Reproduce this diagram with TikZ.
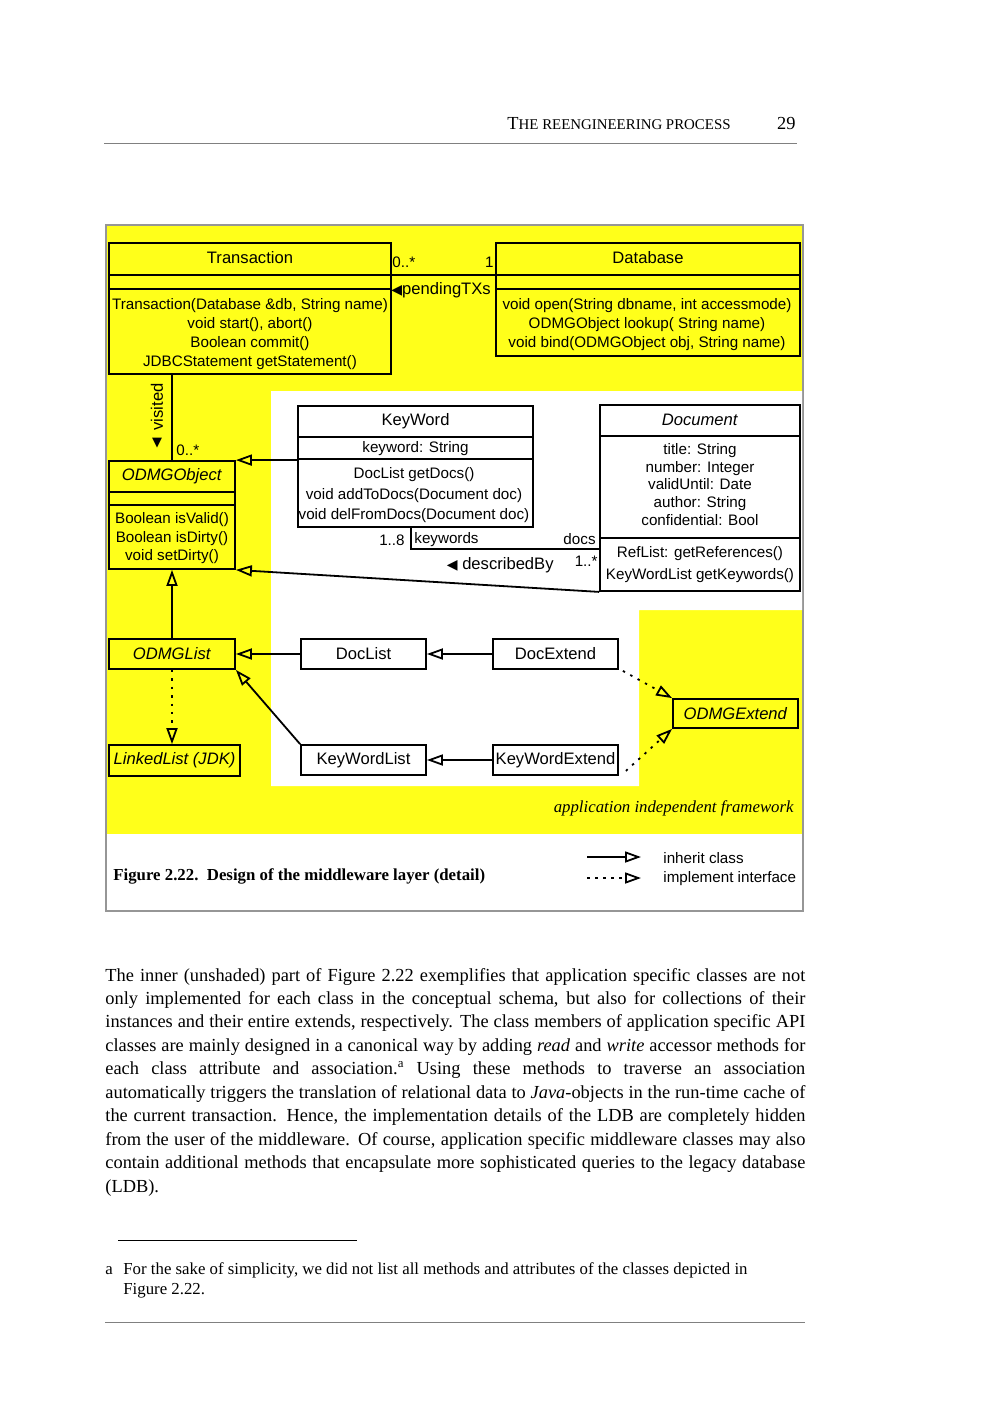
\documentclass[tikz,border=0pt]{standalone}
\usepackage{fontspec}
\setmainfont{Liberation Serif}
\setsansfont{Liberation Sans}
\newfontfamily\symbolfont{DejaVu Sans}
\usetikzlibrary{arrows.meta,calc}
\definecolor{fwyellow}{RGB}{255,255,26}
\definecolor{framegray}{RGB}{150,150,150}
\newcommand\umlfont{\sffamily\fontsize{7.6pt}{9.4pt}\selectfont}
\newcommand\umlname{\sffamily\fontsize{8.3pt}{10pt}\selectfont}
\newcommand\umlfontsp[1]{\sffamily\fontsize{7.6pt}{#1}\selectfont}
\newcommand\tinytri[1]{{\symbolfont\fontsize{7pt}{8pt}\selectfont #1}}

\begin{document}
\begin{tikzpicture}[x=0.5pt,y=-0.5pt,
  classbox/.style={draw,line width=0.9pt,inner sep=0pt,font=\umlname},
  umltext/.style={font=\umlfont,align=center,inner sep=0pt},
  umlname/.style={font=\umlname,align=center,inner sep=0pt},
  divider/.style={line width=0.9pt},
  assoc/.style={line width=0.9pt},
  inherit/.style={line width=0.9pt,-{Triangle[open,length=8pt,width=5.5pt]}},
  implement/.style={inherit,dash pattern=on 1.2pt off 3pt},
  bodyline/.style={anchor=base west,inner sep=0pt,font=\fontsize{9.2pt}{11pt}\selectfont}]
  \useasboundingbox (0,0) rectangle (1000,1413);
  \fill[white] (0,0) rectangle (1000,1413);

  %% Running head
  \node[anchor=base east,inner sep=0pt,font=\fontsize{9.2pt}{11pt}\selectfont]
        (runhead) at (731,130) {T{\fontsize{7.45pt}{9pt}\selectfont HE REENGINEERING PROCESS}};
  \node[anchor=base east,inner sep=0pt,font=\fontsize{9.2pt}{11pt}\selectfont]
        (pageno) at (796,130) {29};
  \draw[gray,line width=0.5pt] (104,144) -- (797,144);

  %% Figure frame and shading
  \draw[framegray,line width=1pt,fill=white] (106,225) rectangle (803,911);
  \fill[fwyellow] (107,226) rectangle (802,834);
  \fill[white] (271,391) -- (802,391) -- (802,610) -- (639,610) -- (639,786)
        -- (271,786) -- cycle;

  %% Transaction
  \node[classbox,minimum width=141pt,minimum height=65.5pt] (trans) at (250,308.5) {};
  \draw[divider] (trans.west |- 0,275) -- (trans.east |- 0,275);
  \draw[divider] (trans.west |- 0,289) -- (trans.east |- 0,289);
  \node[umlname] (transname) at (250,258) {Transaction};
  \node[umltext,font=\umlfontsp{9.5pt}] (transops) at (250,334.5)
        {Transaction(Database \&db, String name)\\void start(), abort()\\
         Boolean commit()\\JDBCStatement getStatement()};

  %% Database
  \node[classbox,minimum width=152pt,minimum height=56.5pt] (db) at (648,299.5) {};
  \draw[divider] (db.west |- 0,275) -- (db.east |- 0,275);
  \draw[divider] (db.west |- 0,289) -- (db.east |- 0,289);
  \node[umlname] (dbname) at (648,258) {Database};
  \node[umltext,font=\umlfontsp{9.5pt}] (dbops) at (647,325)
        {void open(String dbname, int accessmode)\\ODMGObject lookup( String name)\\
         void bind(ODMGObject obj, String name)};

  %% ODMGObject
  \node[classbox,minimum width=63pt,minimum height=54pt] (obj) at (172,515) {};
  \draw[divider] (obj.west |- 0,492) -- (obj.east |- 0,492);
  \draw[divider] (obj.west |- 0,505) -- (obj.east |- 0,505);
  \node[umlname] (objname) at (172,476) {\textit{ODMGObject}};
  \node[umltext,font=\umlfontsp{9.25pt}] (objops) at (172,538.5)
        {Boolean isValid()\\Boolean isDirty()\\void setDirty()};

  %% KeyWord
  \node[classbox,minimum width=117.5pt,minimum height=60.5pt] (kw) at (415.5,466.5) {};
  \draw[divider] (kw.west |- 0,437) -- (kw.east |- 0,437);
  \draw[divider] (kw.west |- 0,459) -- (kw.east |- 0,459);
  \node[umlname] (kwname) at (415.5,421) {KeyWord};
  \node[umltext] (kwattr) at (415.5,449) {keyword: String};
  \node[umltext,font=\umlfontsp{10.25pt}] (kwops) at (414,495.5)
        {DocList getDocs()\\void addToDocs(Document doc)\\void delFromDocs(Document doc)};

  %% Document
  \node[classbox,minimum width=100pt,minimum height=93pt] (doc) at (700,498) {};
  \draw[divider] (doc.west |- 0,436) -- (doc.east |- 0,436);
  \draw[divider] (doc.west |- 0,538) -- (doc.east |- 0,538);
  \node[umlname] (docname) at (700,420) {\textit{Document}};
  \node[umltext,font=\umlfontsp{8.9pt}] (docattr) at (700,484.5)
        {title: String\\number: Integer\\validUntil: Date\\author: String\\confidential: Bool};
  \node[umltext,font=\umlfontsp{11pt}] (docops) at (700,565)
        {RefList: getReferences()\\KeyWordList getKeywords()};

  %% Collections and extends
  \node[classbox,fill=fwyellow,minimum width=63pt,minimum height=15pt] (list) at (172,654) {\textit{ODMGList}};
  \node[classbox,fill=fwyellow,minimum width=65.5pt,minimum height=15.5pt] (jdk) at (174.5,760.5) {\textit{LinkedList (JDK)}};
  \node[classbox,fill=white,minimum width=62.5pt,minimum height=15pt] (doclist) at (363.5,654) {DocList};
  \node[classbox,fill=white,minimum width=62.5pt,minimum height=15pt] (kwlist) at (363.5,760) {KeyWordList};
  \node[classbox,fill=white,minimum width=62.5pt,minimum height=15pt] (docext) at (555.5,654) {DocExtend};
  \node[classbox,fill=white,minimum width=62.5pt,minimum height=15pt] (kwext) at (555.5,760) {KeyWordExtend};
  \node[classbox,fill=fwyellow,minimum width=62.5pt,minimum height=14.5pt] (odmgext) at (735.5,713.5) {\textit{ODMGExtend}};

  %% Associations
  \draw[assoc] (trans.east |- 0,275) -- (db.west |- 0,275);
  \node[umltext,anchor=west] (txmult) at (392,262) {0..*};
  \node[umltext,anchor=east] (dbmult) at (494,262) {1};
  \node[umlname,anchor=west] (pendlbl) at (391,290) {\tinytri{◀}pendingTXs};

  \draw[assoc] (obj.north |- trans.south) -- (obj.north);
  \node[umlname,rotate=90] (visitlbl) at (157,407) {visited};
  \node[inner sep=0pt,font=\symbolfont\fontsize{6.5pt}{7pt}\selectfont] (visitdir) at (157,443) {▼};
  \node[umltext,anchor=west] (visitmult) at (176,450) {0..*};

  \draw[assoc] (kw.south -| 411,0) |- (doc.west |- 0,549);
  \node[umltext,anchor=east] (kwmult) at (405,540) {1..8};
  \node[umltext,anchor=west] (kwrole) at (414,540) {keywords};
  \node[umltext,anchor=east] (docrole) at (596,539) {docs};
  \node[umltext,anchor=east] (docmult) at (598,561) {1..*};
  \node[umlname,anchor=east] (desclbl) at (554,565) {\tinytri{◀} describedBy};

  %% Inheritance
  \draw[inherit] (kw.west |- obj.north) -- (obj.north east);
  \draw[inherit] (doc.south west) -- (obj.south east);
  \draw[inherit] (list.north) -- (obj.south);
  \draw[inherit] (doclist.west) -- (list.east);
  \draw[inherit] (kwlist.north west) -- (list.south east);
  \draw[inherit] (docext.west) -- (doclist.east);
  \draw[inherit] (kwext.west) -- (kwlist.east);

  %% Interfaces
  \draw[implement] (list.south) -- (list.south |- jdk.north);
  \draw[implement] ([xshift=2pt,yshift=-0.5pt]docext.south east) -- (odmgext.north west);
  \draw[implement] ([xshift=3.5pt,yshift=2.5pt]kwext.south east) -- (odmgext.south west);

  \node[anchor=base east,inner sep=0pt,font=\itshape\fontsize{8.4pt}{10pt}\selectfont]
        (fwlabel) at (794,812) {application independent framework};

  %% Caption and legend
  \node[anchor=base west,inner sep=0pt,font=\bfseries\fontsize{8.4pt}{10pt}\selectfont]
        (caption) at (113,880) {Figure 2.22.\ \ Design of the middleware layer (detail)};
  \coordinate (leginhA) at (587,857);
  \coordinate (leginhB) at (641,857);
  \coordinate (legimpA) at (587,878);
  \coordinate (legimpB) at (641,878);
  \draw[inherit] (leginhA) -- (leginhB);
  \draw[inherit,dash pattern=on 1.5pt off 2.5pt] (legimpA) -- (legimpB);
  \node[umltext,anchor=west] (leginh) at (663,858) {inherit class};
  \node[umltext,anchor=west] (legimp) at (663,879) {implement interface};

  %% Body text
  \foreach \txt [count=\i from 0] in {
      {The inner (unshaded) part of Figure 2.22 exemplifies that application specific classes are not},
      {only implemented for each class in the conceptual schema, but also for collections of their},
      {instances and their entire extends, respectively. The class members of application specific API},
      {classes are mainly designed in a canonical way by adding \textit{read} and \textit{write} accessor methods for},
      {each class attribute and association.\textsuperscript{a} Using these methods to traverse an association},
      {automatically triggers the translation of relational data to \textit{Java}-objects in the run-time cache of},
      {the current transaction. Hence, the implementation details of the LDB are completely hidden},
      {from the user of the middleware. Of course, application specific middleware classes may also},
      {contain additional methods that encapsulate more sophisticated queries to the legacy database}}
    \node[bodyline] (body\i) at (105,981+23.44*\i) {\makebox[350pt][s]{\txt}};
  \node[bodyline] (bodylast) at (105,1192) {(LDB).};

  %% Footnote
  \draw[line width=0.5pt] (118,1240) -- (357,1240);
  \node[anchor=base west,inner sep=0pt,font=\fontsize{8.4pt}{10pt}\selectfont] (fnmark) at (105,1274) {a};
  \node[anchor=base west,inner sep=0pt,font=\fontsize{8.4pt}{10pt}\selectfont] (fnone) at (123,1274)
        {For the sake of simplicity, we did not list all methods and attributes of the classes depicted in};
  \node[anchor=base west,inner sep=0pt,font=\fontsize{8.4pt}{10pt}\selectfont] (fntwo) at (123,1294) {Figure 2.22.};
  \draw[gray,line width=0.5pt] (105,1322) -- (805,1322);
\end{tikzpicture}
\end{document}
